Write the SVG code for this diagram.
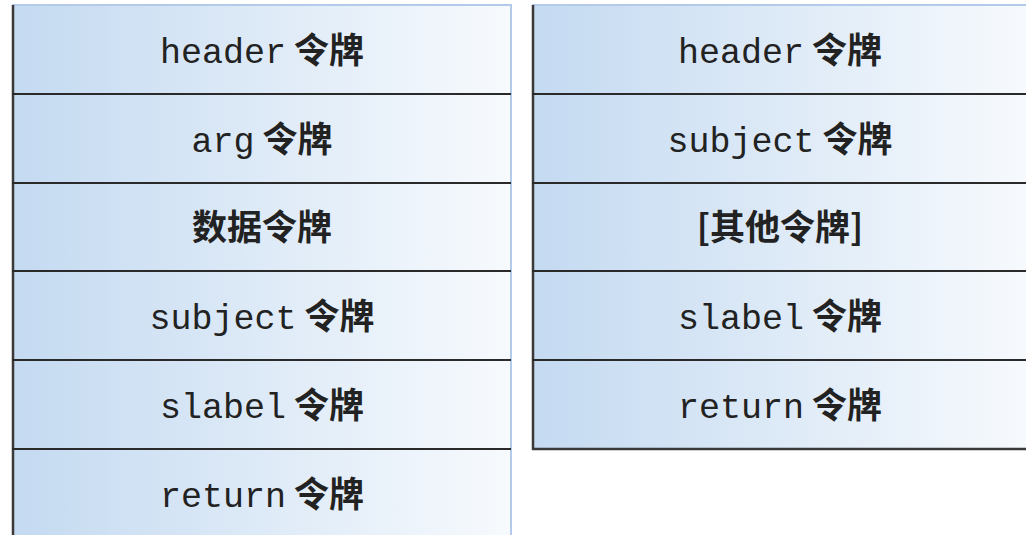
<svg xmlns="http://www.w3.org/2000/svg" width="1026" height="535" viewBox="0 0 1026 535">
<defs>
<linearGradient id="g" x1="0" y1="0" x2="1" y2="0">
<stop offset="0" stop-color="#c4daf1"/>
<stop offset="1" stop-color="#f7fafd"/>
</linearGradient>
<style>
.cell{fill:url(#g);}
.div{stroke:#2a2a2a;stroke-width:2;}
.edge{stroke:#3a3a3a;stroke-width:2.5;}
.lt{stroke:#b3cbe8;stroke-width:2;fill:none;}
text{font-family:"Liberation Mono","Courier New",monospace;font-size:35px;fill:#222;text-anchor:middle;}
.cjk{font-family:"Noto Sans CJK SC","Noto Sans",sans-serif;font-weight:bold;}
</style>
</defs>
<rect x="0" y="0" width="1026" height="535" fill="#ffffff"/>
<g id="left-stack">
<g id="L1"><rect class="cell" x="12" y="5" width="499" height="89"/><text x="262" y="63">header<tspan class="cjk"> 令牌</tspan></text></g>
<g id="L2"><rect class="cell" x="12" y="94" width="499" height="89"/><text x="262" y="152">arg<tspan class="cjk"> 令牌</tspan></text></g>
<g id="L3"><rect class="cell" x="12" y="183" width="499" height="88"/><text class="cjk" x="262" y="240">数据令牌</text></g>
<g id="L4"><rect class="cell" x="12" y="271" width="499" height="89"/><text x="262" y="329">subject<tspan class="cjk"> 令牌</tspan></text></g>
<g id="L5"><rect class="cell" x="12" y="360" width="499" height="89"/><text x="262" y="418">slabel<tspan class="cjk"> 令牌</tspan></text></g>
<g id="L6"><rect class="cell" x="12" y="449" width="499" height="90"/><text x="262" y="507">return<tspan class="cjk"> 令牌</tspan></text></g>
<path class="lt" d="M12 5H511V540"/>
<line class="edge" x1="13" y1="5" x2="13" y2="540"/>
<line class="div" x1="12" y1="94" x2="511" y2="94"/>
<line class="div" x1="12" y1="183" x2="511" y2="183"/>
<line class="div" x1="12" y1="271" x2="511" y2="271"/>
<line class="div" x1="12" y1="360" x2="511" y2="360"/>
<line class="div" x1="12" y1="449" x2="511" y2="449"/>
</g>
<g id="right-stack">
<g id="R1"><rect class="cell" x="532" y="5" width="500" height="89"/><text x="780" y="63">header<tspan class="cjk"> 令牌</tspan></text></g>
<g id="R2"><rect class="cell" x="532" y="94" width="500" height="89"/><text x="780" y="152">subject<tspan class="cjk"> 令牌</tspan></text></g>
<g id="R3"><rect class="cell" x="532" y="183" width="500" height="88"/><text class="cjk" x="780" y="240">[其他令牌]</text></g>
<g id="R4"><rect class="cell" x="532" y="271" width="500" height="89"/><text x="780" y="329">slabel<tspan class="cjk"> 令牌</tspan></text></g>
<g id="R5"><rect class="cell" x="532" y="360" width="500" height="89"/><text x="780" y="418">return<tspan class="cjk"> 令牌</tspan></text></g>
<line class="lt" x1="532" y1="5" x2="1030" y2="5"/>
<line class="edge" x1="533" y1="5" x2="533" y2="450"/>
<line class="div" x1="532" y1="94" x2="1030" y2="94"/>
<line class="div" x1="532" y1="183" x2="1030" y2="183"/>
<line class="div" x1="532" y1="271" x2="1030" y2="271"/>
<line class="div" x1="532" y1="360" x2="1030" y2="360"/>
<line class="edge" x1="532" y1="449" x2="1030" y2="449"/>
</g>
</svg>
